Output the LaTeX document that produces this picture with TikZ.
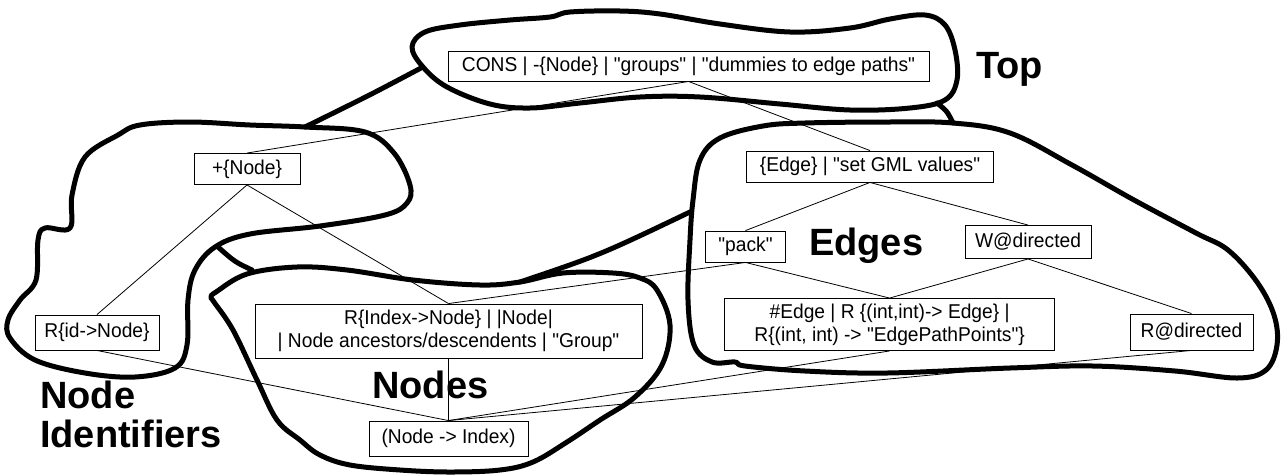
\documentclass[tikz,border=0pt]{standalone}
\usepackage{fontspec}
\setmainfont{Liberation Sans}[Ligatures=TeXOff]
\newfontfamily\boxfont{Liberation Sans}[Ligatures=TeXOff, FakeStretch=0.96]
\begin{document}
\begin{tikzpicture}[x=1pt,y=-1pt,
  box/.style={draw, line width=0.9pt, inner sep=0pt, align=center,
    font=\boxfont\fontsize{20}{23}\selectfont},
  link/.style={line width=0.8pt},
  blob/.style={line width=5pt, line join=round, line cap=round},
  title/.style={inner sep=0pt, font=\fontsize{38}{39}\selectfont\bfseries}]

\useasboundingbox (0,0) rectangle (1285,475);

% ---- group outlines ----
% Top
\draw[blob] plot[smooth cycle, tension=0.6] coordinates {
  (412,47) (425,32) (460,25) (510,20) (550,17) (570,12) (620,11) (660,14)
  (720,24) (790,32) (850,28) (890,19) (925,15) (945,25) (955,50) (957,80)
  (945,100) (910,108) (850,110) (780,104) (700,97) (640,97) (580,103)
  (530,108) (490,104) (447,87) (423,67)};
% Node identifiers
\draw[blob] plot[smooth cycle, tension=0.6] coordinates {
  (118,135) (140,125) (190,122) (250,125) (305,127) (365,132) (394,153)
  (410,185) (407,203) (385,215) (320,226) (250,234) (215,247) (195,270)
  (188,300) (187,345) (175,368) (135,377) (85,373) (35,360) (10,338)
  (8,320) (20,300) (36,280) (38,240) (45,228) (70,228) (72,195) (85,157)};
% Nodes
\draw[blob] plot[smooth cycle, tension=0.6] coordinates {
  (211,297) (216,292) (247,274) (297,267) (347,270) (413,280) (480,285)
  (520,282) (563,273) (613,273) (640,278) (657,290) (670,325) (662,365)
  (635,397) (600,420) (567,442) (533,462) (500,470) (450,472) (400,470)
  (350,465) (320,455) (300,440) (277,420) (257,380) (233,330) (214,302)};
% Edges
\draw[blob] plot[smooth cycle, tension=0.6] coordinates {
  (700,160) (720,138) (763,126) (805,123) (887,122) (953,123) (1010,133)
  (1072,165) (1134,200) (1196,233) (1228,250) (1257,282) (1274,315)
  (1277,345) (1266,370) (1237,378) (1175,371) (1093,366) (1010,368)
  (887,373) (805,371) (745,366) (735,362) (712,362) (694,345) (688,300)
  (690,240) (693,200)};
% joins between the outlines
\draw[blob] (421,68) .. controls (370,95) .. (305,127);
\draw[blob] (937,103) .. controls (947,111) .. (953,123);
\draw[blob] (218,247) .. controls (235,262) .. (252,270);
\draw[blob] (520,282) .. controls (600,255) .. (690,212);

% ---- boxes ----
\node[box, minimum width=481pt, minimum height=30pt] (top) at (688.5,66)
  {CONS | -\{Node\} | "groups" | "dummies to edge paths"};
\node[box, minimum width=106pt, minimum height=31pt] (plus) at (247,169)
  {+\{Node\}};
\node[box, minimum width=124pt, minimum height=35pt] (rid) at (97,332.5)
  {R\{id->Node\}};
\node[box, minimum width=387pt, minimum height=54pt] (ridx) at (448.5,331)
  {R\{Index->Node\} | |Node|\\| Node ancestors/descendents | "Group"};
\node[box, minimum width=159pt, minimum height=35pt] (nidx) at (448.5,438.5)
  {(Node -> Index)};
\node[box, minimum width=247pt, minimum height=31pt] (edge) at (870,166.5)
  {\{Edge\} | "set GML values"};
\node[box, minimum width=80pt, minimum height=31pt] (pack) at (745.5,246.5)
  {"pack"};
\node[box, minimum width=126pt, minimum height=33pt] (wdir) at (1028,242)
  {W@directed};
\node[box, minimum width=330pt, minimum height=52pt] (hedge) at (889.6,324.5)
  {\#Edge | R \{(int,int)-> Edge\} |\\R\{(int, int) -> "EdgePathPoints"\}};
\node[box, minimum width=123pt, minimum height=36pt] (rdir) at (1191.5,332)
  {R@directed};

% ---- group titles ----
\node[title, anchor=base west] (ttop) at (976,78) {Top};
\node[title, anchor=base west] (tedges) at (809,255) {Edges};
\node[title, anchor=base west] (tnodes) at (372,398) {Nodes};
\node[title, anchor=base west] (tids) at (40,408)
  {\begin{tabular}[t]{@{}l@{}}Node\\Identifiers\end{tabular}};

% ---- connectors ----
\draw[link] (top.south) -- (plus.north);
\draw[link] (top.south) -- (edge.north);
\draw[link] (plus.south) -- (rid.north);
\draw[link] (plus.south) -- (ridx.north);
\draw[link] (edge.south) -- (pack.north);
\draw[link] (edge.south) -- (wdir.north);
\draw[link] (pack.south) -- (ridx.north);
\draw[link] (pack.south) -- (hedge.north);
\draw[link] (wdir.south) -- (hedge.north);
\draw[link] (wdir.south) -- (rdir.north);
\draw[link] (rid.south) -- (nidx.north);
\draw[link] (ridx.south) -- (nidx.north);
\draw[link] (hedge.south) -- (nidx.north);
\draw[link] (rdir.south) -- (nidx.north);
\end{tikzpicture}
\end{document}
